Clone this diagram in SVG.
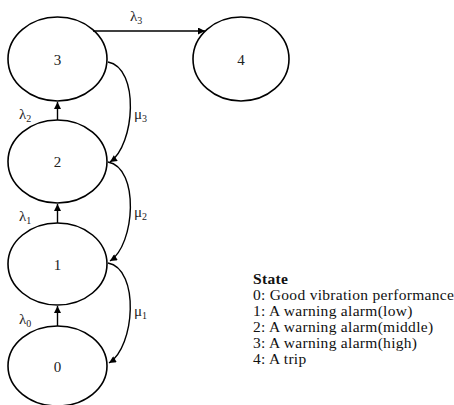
<svg xmlns="http://www.w3.org/2000/svg" width="454" height="405" viewBox="0 0 454 405">
<style>
.n{fill:#fff;stroke:#000;stroke-width:1.6}
.t{font-family:"Liberation Serif",serif;font-size:15px;fill:#222;text-anchor:middle}
.c{fill:none;stroke:#000;stroke-width:1.4}
.l{font-family:"Liberation Serif",serif;font-size:15px;fill:#222}
.s{font-size:10px}
.g{font-family:"Liberation Serif",serif;font-size:15.5px;letter-spacing:0.3px;fill:#111}
</style>
<defs>
<marker id="ah2" viewBox="0 0 10 10" refX="10" refY="5" markerWidth="14" markerHeight="7" markerUnits="userSpaceOnUse" orient="auto">
<path d="M0,0 L10,5 L0,10 z" fill="#000"/>
</marker>
</defs>
<g id="node3"><ellipse class="n" cx="57.5" cy="59" rx="49.5" ry="42"/><text class="t" x="57.5" y="65">3</text></g>
<g id="node4"><ellipse class="n" cx="241" cy="59" rx="48" ry="42"/><text class="t" x="241" y="65">4</text></g>
<g id="node2"><ellipse class="n" cx="57.5" cy="161.5" rx="49.5" ry="41.5"/><text class="t" x="57.5" y="167">2</text></g>
<g id="node1"><ellipse class="n" cx="57.5" cy="264" rx="49.5" ry="41"/><text class="t" x="57.5" y="270">1</text></g>
<g id="node0"><ellipse class="n" cx="57.5" cy="366" rx="49.5" ry="40"/><text class="t" x="57.5" y="372">0</text></g>
<g id="connectors">
<path class="c" d="M93,31 L205,31" marker-end="url(#ah2)"/>
<path class="c" d="M57.5,120 L57.5,102" marker-end="url(#ah2)"/>
<path class="c" d="M57.5,223 L57.5,204" marker-end="url(#ah2)"/>
<path class="c" d="M57.5,326 L57.5,306" marker-end="url(#ah2)"/>
<path class="c" d="M108,62 C140,68 135,145 110,162" marker-end="url(#ah2)"/>
<path class="c" d="M108,162 C140,168 135,245 110,261" marker-end="url(#ah2)"/>
<path class="c" d="M108,263 C140,269 135,347 109,363" marker-end="url(#ah2)"/>
</g>
<g id="labels">
<text class="l" x="130" y="21">λ<tspan class="s" dy="3">3</tspan></text>
<text class="l" x="19" y="119">λ<tspan class="s" dy="3">2</tspan></text>
<text class="l" x="19" y="221">λ<tspan class="s" dy="3">1</tspan></text>
<text class="l" x="19" y="324">λ<tspan class="s" dy="3">0</tspan></text>
<text class="l" x="134" y="119">μ<tspan class="s" dy="3">3</tspan></text>
<text class="l" x="134" y="217">μ<tspan class="s" dy="3">2</tspan></text>
<text class="l" x="134" y="316">μ<tspan class="s" dy="3">1</tspan></text>
</g>
<g id="legend" class="g">
<text x="253" y="284" font-weight="bold">State</text>
<text x="253" y="300">0: Good vibration performance</text>
<text x="253" y="316">1: A warning alarm(low)</text>
<text x="253" y="332">2: A warning alarm(middle)</text>
<text x="253" y="348">3: A warning alarm(high)</text>
<text x="253" y="364">4: A trip</text>
</g>
</svg>
